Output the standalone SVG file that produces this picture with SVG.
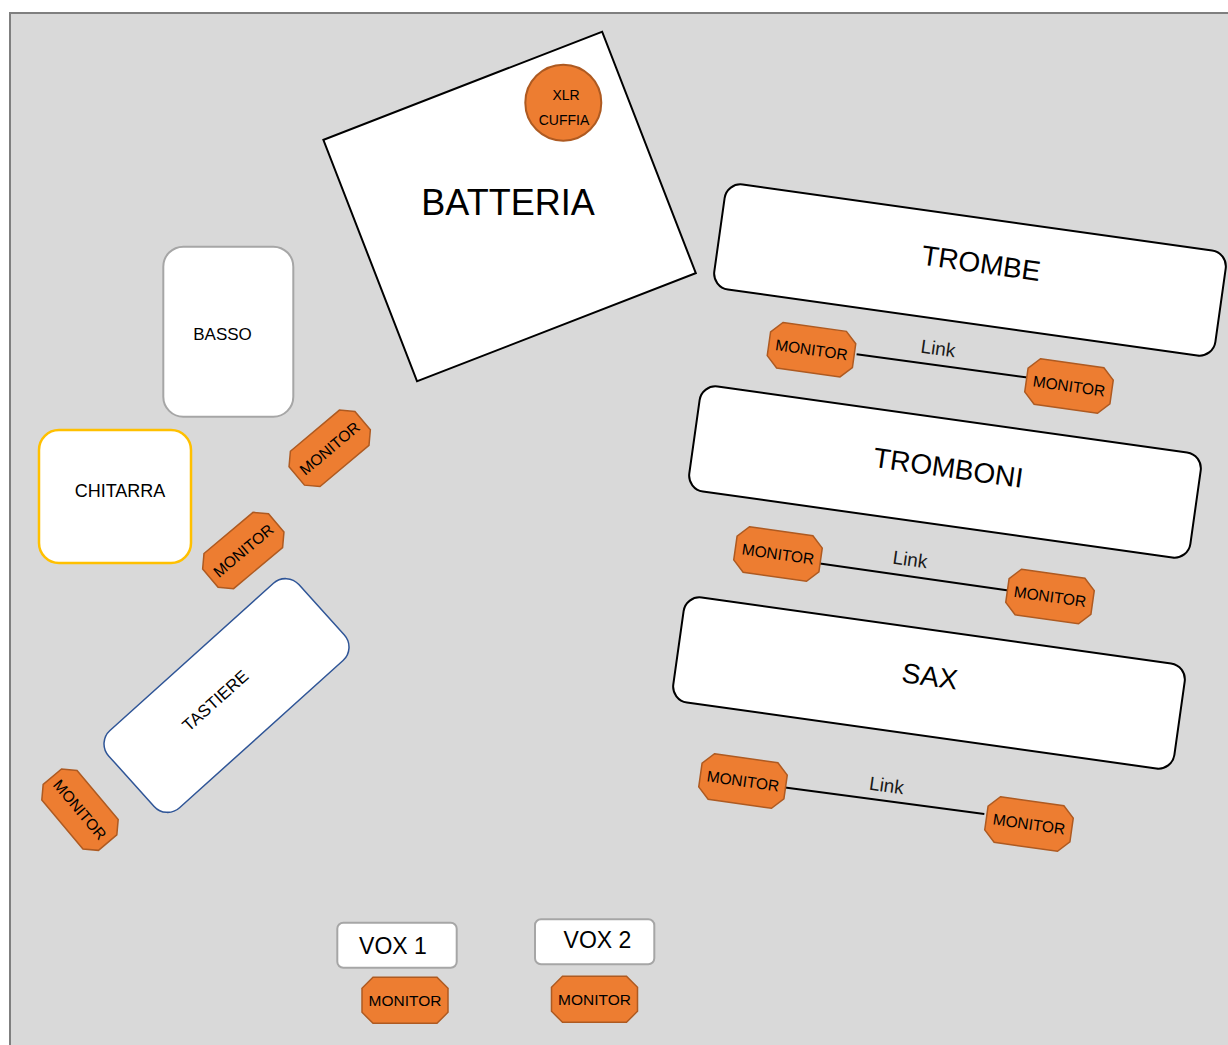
<svg xmlns="http://www.w3.org/2000/svg" xmlns:xlink="http://www.w3.org/1999/xlink" width="1228" height="1045" viewBox="0 0 1228 1045">
<style>
text{font-family:"Liberation Sans",Arial,sans-serif;fill:#000;text-anchor:middle}
.box{fill:#fff;stroke:#000;stroke-width:2}
.grey{fill:#fff;stroke:#a6a6a6;stroke-width:2}
.mon{fill:#ed7d31;stroke:#ae5a21;stroke-width:1.5}
.mt{font-size:15.5px}
.big{font-size:28px}
.lnk{stroke:#000;stroke-width:2;fill:none}
.lt{font-size:19px;fill:#1a1a1a}
</style>
<defs>
<polygon id="oct" points="-32,-23 32,-23 43,-12 43,12 32,23 -32,23 -43,12 -43,-12"/>
</defs>
<rect x="10" y="13" width="1232" height="1045" fill="#d9d9d9" stroke="#7f7f7f" stroke-width="2"/>

<g id="batteria">
<rect class="box" x="-149.5" y="-129.5" width="299" height="259" transform="translate(509.6,206.5) rotate(-21.2)"/>
<text x="508" y="215" font-size="36">BATTERIA</text>
</g>
<g id="xlr-cuffia">
<circle cx="563.3" cy="102.7" r="38" fill="#ed7d31" stroke="#ae5a21" stroke-width="2"/>
<text x="566" y="100" font-size="14">XLR</text>
<text x="564" y="125" font-size="14">CUFFIA</text>
</g>

<g id="basso">
<rect class="grey" x="163.3" y="246.7" width="130" height="170" rx="20"/>
<text x="222.5" y="340" font-size="17">BASSO</text>
</g>
<g id="chitarra">
<rect x="39" y="430" width="152" height="133" rx="20" fill="#fff" stroke="#ffc000" stroke-width="2.5"/>
<text x="120" y="496.7" font-size="18">CHITARRA</text>
</g>
<g id="tastiere" transform="translate(226.5,695.5) rotate(-42)">
<rect x="-128" y="-52" width="256" height="104" rx="18" fill="#fff" stroke="#2f5597" stroke-width="1.5"/>
<text x="-11.7" y="2.2" font-size="17">TASTIERE</text>
</g>

<g id="trombe" transform="translate(970,270) rotate(8)">
<rect class="box" x="-253" y="-53" width="506" height="106" rx="16"/>
<text class="big" x="10" y="1.4">TROMBE</text>
</g>
<g id="tromboni" transform="translate(945,472) rotate(8)">
<rect class="box" x="-253" y="-53" width="506" height="106" rx="16"/>
<text class="big" x="2.6" y="5">TROMBONI</text>
</g>
<g id="sax" transform="translate(929,683) rotate(8)">
<rect class="box" x="-253" y="-53" width="506" height="106" rx="16"/>
<text class="big" x="0" y="2.8">SAX</text>
</g>

<g id="vox1">
<rect class="grey" x="337.3" y="922.7" width="119.4" height="45" rx="6"/>
<text x="393" y="954.3" font-size="23">VOX 1</text>
</g>
<g id="vox2">
<rect class="grey" x="535" y="919.3" width="119.3" height="45" rx="6"/>
<text x="597.5" y="948.3" font-size="23">VOX 2</text>
</g>

<g id="connectors">
<line class="lnk" x1="856.6" y1="354.3" x2="1033.3" y2="378.3"/>
<text class="lt" transform="translate(938,349) rotate(8)" y="6">Link</text>
<line class="lnk" x1="814.6" y1="562.7" x2="1010.3" y2="590.7"/>
<text class="lt" transform="translate(910,560) rotate(8)" y="6">Link</text>
<line class="lnk" x1="783.2" y1="787.3" x2="984.3" y2="814"/>
<text class="lt" transform="translate(886.5,786) rotate(8)" y="6">Link</text>
</g>

<g id="monitor-basso" transform="translate(329.7,448.3) rotate(-40)"><use xlink:href="#oct" class="mon"/><text class="mt" y="5.5">MONITOR</text></g>
<g id="monitor-chitarra" transform="translate(243.3,550.5) rotate(-40)"><use xlink:href="#oct" class="mon"/><text class="mt" y="5.5">MONITOR</text></g>
<g id="monitor-tastiere" transform="translate(80,809.7) rotate(50)"><use xlink:href="#oct" class="mon"/><text class="mt" y="5.5">MONITOR</text></g>
<g id="monitor-trombe-1" transform="translate(811.5,349.7) rotate(8)"><use xlink:href="#oct" class="mon"/><text class="mt" y="5.5">MONITOR</text></g>
<g id="monitor-trombe-2" transform="translate(1069,386) rotate(8)"><use xlink:href="#oct" class="mon"/><text class="mt" y="5.5">MONITOR</text></g>
<g id="monitor-tromboni-1" transform="translate(778,554) rotate(8)"><use xlink:href="#oct" class="mon"/><text class="mt" y="5.5">MONITOR</text></g>
<g id="monitor-tromboni-2" transform="translate(1050,596.5) rotate(8)"><use xlink:href="#oct" class="mon"/><text class="mt" y="5.5">MONITOR</text></g>
<g id="monitor-sax-1" transform="translate(743,781) rotate(8)"><use xlink:href="#oct" class="mon"/><text class="mt" y="5.5">MONITOR</text></g>
<g id="monitor-sax-2" transform="translate(1029,824) rotate(8)"><use xlink:href="#oct" class="mon"/><text class="mt" y="5.5">MONITOR</text></g>
<g id="monitor-vox1" transform="translate(405,1000.3)"><use xlink:href="#oct" class="mon"/><text class="mt" y="5.5">MONITOR</text></g>
<g id="monitor-vox2" transform="translate(594.5,999.3)"><use xlink:href="#oct" class="mon"/><text class="mt" y="5.5">MONITOR</text></g>
</svg>
